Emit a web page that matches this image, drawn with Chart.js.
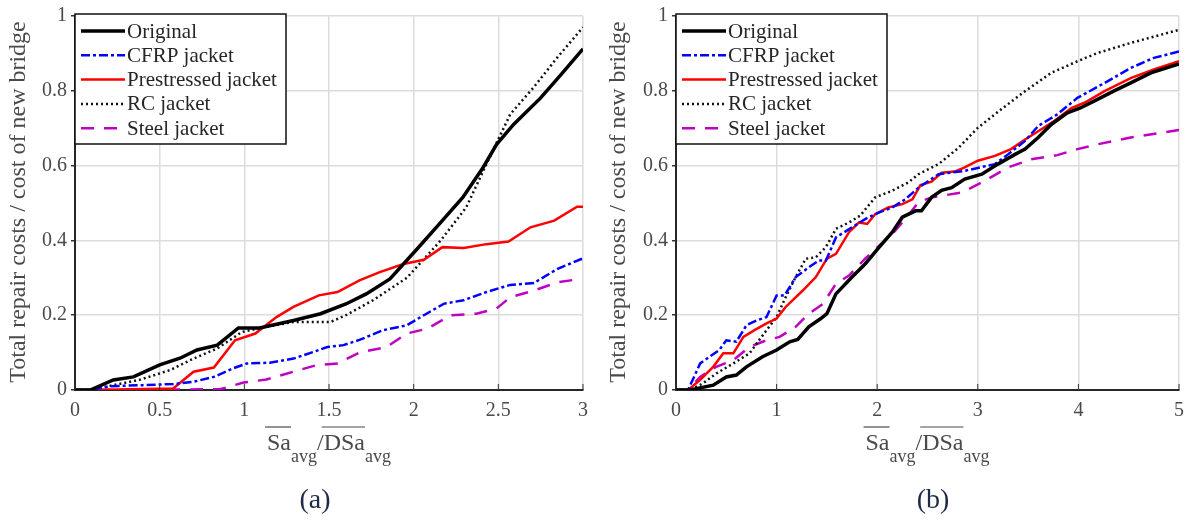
<!DOCTYPE html>
<html>
<head>
<meta charset="utf-8">
<script src="https://cdn.jsdelivr.net/npm/chart.js@4/dist/chart.umd.min.js"></script>
<style>
  body { margin: 0; background: #fff; }
  #wrapA { position: absolute; left: 0; top: 0; width: 600px; height: 524px; }
  #wrapB { position: absolute; left: 600px; top: 0; width: 593px; height: 524px; }
</style>
</head>
<body>
<div id="wrapA"><canvas id="chartA" width="600" height="524"></canvas></div>
<div id="wrapB"><canvas id="chartB" width="593" height="524"></canvas></div>
<script>
const seriesNames = ['Original', 'CFRP jacket', 'Prestressed jacket', 'RC jacket', 'Steel jacket'];
const yTicks = [0, 0.2, 0.4, 0.6, 0.8, 1];

// (a) values
const aOrigX = [0, 0.09, 0.226, 0.345, 0.50, 0.62, 0.72, 0.84, 0.965, 1.09, 1.29, 1.45, 1.6, 1.72, 1.86, 2.02, 2.16, 2.29, 2.41, 2.49, 2.59, 2.75, 2.87, 3.0];
const aOrigY = [0, 0, 0.027, 0.035, 0.067, 0.085, 0.107, 0.12, 0.166, 0.166, 0.186, 0.204, 0.23, 0.257, 0.297, 0.377, 0.448, 0.515, 0.595, 0.657, 0.71, 0.781, 0.843, 0.912];
const aCfrpX = [0, 0.09, 0.207, 0.40, 0.58, 0.70, 0.82, 0.935, 1.015, 1.15, 1.29, 1.41, 1.49, 1.585, 1.68, 1.82, 1.96, 2.06, 2.18, 2.295, 2.43, 2.57, 2.71, 2.85, 3.0];
const aCfrpY = [0, 0, 0.01, 0.013, 0.016, 0.022, 0.035, 0.058, 0.071, 0.073, 0.084, 0.102, 0.115, 0.12, 0.134, 0.16, 0.173, 0.2, 0.231, 0.24, 0.262, 0.281, 0.286, 0.324, 0.352];
const aPresX = [0, 0.09, 0.58, 0.70, 0.82, 0.945, 1.065, 1.19, 1.29, 1.44, 1.55, 1.68, 1.80, 1.94, 2.06, 2.17, 2.295, 2.43, 2.56, 2.69, 2.83, 2.965, 3.0];
const aPresY = [0, 0, 0.004, 0.049, 0.06, 0.133, 0.151, 0.195, 0.222, 0.253, 0.262, 0.293, 0.315, 0.337, 0.348, 0.382, 0.38, 0.39, 0.397, 0.435, 0.453, 0.49, 0.49];
const aRcX = [0, 0.09, 0.226, 0.38, 0.56, 0.70, 0.84, 0.985, 1.13, 1.29, 1.51, 1.6, 1.76, 1.96, 2.16, 2.31, 2.43, 2.57, 2.71, 2.85, 3.0];
const aRcY = [0, 0, 0.013, 0.027, 0.053, 0.084, 0.111, 0.155, 0.169, 0.182, 0.182, 0.2, 0.24, 0.30, 0.40, 0.488, 0.604, 0.737, 0.81, 0.89, 0.97];
const aSteelX = [0, 0.857, 0.995, 1.13, 1.29, 1.43, 1.55, 1.68, 1.84, 1.96, 2.08, 2.22, 2.37, 2.49, 2.57, 2.71, 2.85, 2.985];
const aSteelY = [0, 0.002, 0.02, 0.028, 0.049, 0.067, 0.071, 0.1, 0.115, 0.151, 0.164, 0.2, 0.204, 0.218, 0.248, 0.266, 0.288, 0.297];

// (b)
const bOrigX = [0, 0.14, 0.37, 0.5, 0.6, 0.7, 0.86, 1.0, 1.13, 1.21, 1.32, 1.44, 1.5, 1.59, 1.75, 1.88, 2.02, 2.15, 2.25, 2.38, 2.44, 2.54, 2.64, 2.74, 2.87, 3.04, 3.2, 3.37, 3.47, 3.6, 3.73, 3.89, 4.02, 4.19, 4.35, 4.52, 4.72, 5.0];
const bOrigY = [0, 0, 0.013, 0.035, 0.04, 0.062, 0.089, 0.107, 0.129, 0.135, 0.169, 0.191, 0.204, 0.257, 0.302, 0.337, 0.382, 0.422, 0.462, 0.479, 0.479, 0.515, 0.534, 0.541, 0.564, 0.577, 0.604, 0.63, 0.644, 0.675, 0.71, 0.741, 0.754, 0.777, 0.799, 0.821, 0.848, 0.872];
const bCfrpX = [0, 0.12, 0.24, 0.43, 0.5, 0.6, 0.7, 0.8, 0.9, 1.0, 1.08, 1.19, 1.32, 1.42, 1.49, 1.59, 1.75, 1.88, 2.02, 2.15, 2.28, 2.41, 2.61, 2.87, 3.17, 3.3, 3.47, 3.6, 3.79, 3.99, 4.26, 4.52, 4.75, 5.0];
const bCfrpY = [0, 0, 0.071, 0.107, 0.133, 0.129, 0.173, 0.186, 0.195, 0.253, 0.253, 0.302, 0.328, 0.346, 0.346, 0.408, 0.435, 0.457, 0.475, 0.488, 0.51, 0.541, 0.577, 0.586, 0.604, 0.63, 0.666, 0.706, 0.737, 0.781, 0.821, 0.861, 0.888, 0.905];
const bPresX = [0, 0.12, 0.24, 0.37, 0.47, 0.57, 0.67, 0.78, 0.9, 1.0, 1.09, 1.26, 1.39, 1.5, 1.59, 1.72, 1.82, 1.9, 1.98, 2.11, 2.25, 2.35, 2.43, 2.54, 2.64, 2.77, 2.87, 3.0, 3.17, 3.33, 3.47, 3.6, 3.76, 3.93, 4.06, 4.26, 4.52, 4.75, 5.0];
const bPresY = [0, 0, 0.027, 0.062, 0.098, 0.098, 0.142, 0.16, 0.178, 0.191, 0.222, 0.266, 0.302, 0.351, 0.364, 0.422, 0.448, 0.444, 0.47, 0.488, 0.497, 0.51, 0.548, 0.557, 0.581, 0.584, 0.595, 0.613, 0.626, 0.644, 0.67, 0.692, 0.719, 0.754, 0.768, 0.799, 0.834, 0.857, 0.879];
const bRcX = [0, 0.14, 0.27, 0.40, 0.57, 0.73, 0.9, 1.0, 1.09, 1.19, 1.29, 1.39, 1.49, 1.59, 1.72, 1.83, 1.98, 2.15, 2.31, 2.41, 2.61, 2.81, 3.0, 3.23, 3.47, 3.73, 3.99, 4.19, 4.52, 5.0];
const bRcY = [0, 0, 0.018, 0.044, 0.071, 0.098, 0.16, 0.195, 0.248, 0.302, 0.351, 0.355, 0.382, 0.431, 0.448, 0.466, 0.515, 0.533, 0.555, 0.577, 0.604, 0.648, 0.701, 0.75, 0.799, 0.848, 0.879, 0.901, 0.928, 0.963];
const bSteelX = [0, 0.12, 0.24, 0.4, 0.57, 0.73, 0.9, 1.03, 1.19, 1.32, 1.46, 1.59, 1.72, 1.88, 2.02, 2.15, 2.28, 2.41, 2.54, 2.84, 3.04, 3.3, 3.53, 3.79, 3.99, 4.19, 4.52, 5.0];
const bSteelY = [0, 0, 0.035, 0.062, 0.08, 0.115, 0.133, 0.142, 0.169, 0.204, 0.23, 0.284, 0.306, 0.351, 0.386, 0.417, 0.457, 0.502, 0.515, 0.528, 0.555, 0.595, 0.617, 0.628, 0.644, 0.657, 0.675, 0.695];

const FONT = '"Liberation Serif", "Times New Roman", serif';
const styles = [
    { color: '#000000', width: 3.5, dash: [] },
    { color: '#0000ff', width: 2.5, dash: [9, 3, 3, 3] },
    { color: '#ff0000', width: 2.5, dash: [] },
    { color: '#111111', width: 2.5, dash: [2, 3] },
    { color: '#c000c0', width: 2.5, dash: [13, 10] }
];

function pts(xs, ys) {
    return xs.map((x, i) => ({ x: x, y: ys[i] }));
}

function makeSets(list) {
    return list.map((d, i) => ({
        label: seriesNames[i],
        data: pts(d[0], d[1]),
        borderColor: styles[i].color,
        borderWidth: styles[i].width,
        borderDash: styles[i].dash,
        pointRadius: 0,
        tension: 0,
        fill: false
    }));
}

function drawXTitle(ctx, cx, baseY) {
    const big = '24px ' + FONT, small = '18px ' + FONT;
    const parts = [
        { t: 'Sa', f: big, dy: 0, bar: true },
        { t: 'avg', f: small, dy: 12 },
        { t: '/', f: big, dy: 0 },
        { t: 'DSa', f: big, dy: 0, bar: true },
        { t: 'avg', f: small, dy: 12 }
    ];
    let total = 0;
    parts.forEach(p => { ctx.font = p.f; p.w = ctx.measureText(p.t).width; total += p.w; });
    let x = cx - total / 2;
    ctx.fillStyle = '#4a4a4a';
    ctx.strokeStyle = '#4a4a4a';
    ctx.lineWidth = 1.2;
    ctx.textAlign = 'left';
    ctx.textBaseline = 'alphabetic';
    parts.forEach(p => {
        ctx.font = p.f;
        ctx.fillText(p.t, x, baseY + p.dy);
        if (p.bar) {
            ctx.beginPath();
            ctx.moveTo(x - 2, baseY - 23);
            ctx.lineTo(x + p.w, baseY - 23);
            ctx.stroke();
        }
        x += p.w;
    });
}

const overlay = {
    id: 'overlay',
    afterDatasetsDraw(chart, args, opts) {
        const ctx = chart.ctx;
        const area = chart.chartArea;
        // legend box
        const bx = area.left, by = 14, bw = 211, bh = 130;
        ctx.save();
        ctx.fillStyle = '#fff';
        ctx.fillRect(bx, by, bw, bh);
        ctx.strokeStyle = '#111';
        ctx.lineWidth = 1.5;
        ctx.strokeRect(bx, by, bw, bh);
        chart.data.datasets.forEach((ds, i) => {
            const y = by + 17 + i * 24.3;
            ctx.strokeStyle = ds.borderColor;
            ctx.lineWidth = ds.borderWidth;
            ctx.setLineDash(ds.borderDash);
            ctx.beginPath();
            ctx.moveTo(bx + 6, y);
            ctx.lineTo(bx + 50, y);
            ctx.stroke();
            ctx.setLineDash([]);
            ctx.fillStyle = '#262626';
            ctx.font = '21px ' + FONT;
            ctx.textAlign = 'left';
            ctx.textBaseline = 'middle';
            ctx.fillText(ds.label, bx + 52, y + 1);
        });
        ctx.restore();
    },
    afterDraw(chart, args, opts) {
        const ctx = chart.ctx;
        const area = chart.chartArea;
        const xs = chart.scales.x;
        ctx.save();
        // inward tick marks on the x axis
        ctx.strokeStyle = '#333';
        ctx.lineWidth = 1;
        xs.ticks.forEach(t => {
            const px = xs.getPixelForValue(t.value);
            ctx.beginPath();
            ctx.moveTo(px, area.bottom);
            ctx.lineTo(px, area.bottom - 6);
            ctx.stroke();
        });
        // y axis title
        ctx.translate(19, 202);
        ctx.rotate(-Math.PI / 2);
        ctx.fillStyle = '#4a4a4a';
        ctx.font = '24px ' + FONT;
        ctx.textAlign = 'center';
        ctx.textBaseline = 'middle';
        ctx.fillText('Total repair costs / cost of new bridge', 0, 0);
        ctx.restore();

        ctx.save();
        drawXTitle(ctx, (area.left + area.right) / 2, 450);
        ctx.fillStyle = '#1e2b48';
        ctx.font = '28px ' + FONT;
        ctx.textAlign = 'center';
        ctx.textBaseline = 'middle';
        ctx.fillText(opts.caption, opts.captionX, 501);
        ctx.restore();
    }
};

const plainNum = v => String(+Number(v).toFixed(2));

function makeChart(id, sets, xMax, xStep, yWidth, padRight, caption, captionX) {
    return new Chart(document.getElementById(id), {
        type: 'line',
        data: { datasets: makeSets(sets) },
        plugins: [overlay],
        options: {
            responsive: false,
            animation: false,
            layout: { padding: { left: 0, right: padRight, top: 14, bottom: 0 } },
            plugins: {
                legend: { display: false },
                tooltip: { enabled: false },
                overlay: { caption: caption, captionX: captionX }
            },
            scales: {
                x: {
                    type: 'linear',
                    min: 0,
                    max: xMax,
                    ticks: {
                        stepSize: xStep,
                        padding: 9,
                        color: '#4a4a4a',
                        font: { family: FONT, size: 20 },
                        callback: plainNum
                    },
                    grid: { color: '#dcdcdc', lineWidth: 1.5, drawTicks: false },
                    border: { color: '#262626', width: 2 },
                    afterFit: s => { s.height = 134; }
                },
                y: {
                    min: 0,
                    max: 1,
                    afterBuildTicks: s => { s.ticks = yTicks.map(v => ({ value: v })); },
                    ticks: {
                        padding: 4,
                        color: '#4a4a4a',
                        font: { family: FONT, size: 20 },
                        callback: plainNum
                    },
                    grid: { color: '#dcdcdc', lineWidth: 1.5, tickLength: 4, tickColor: '#333' },
                    border: { color: '#262626', width: 2 },
                    afterFit: s => { s.width = yWidth; }
                }
            }
        }
    });
}

makeChart('chartA', [[aOrigX, aOrigY], [aCfrpX, aCfrpY], [aPresX, aPresY], [aRcX, aRcY], [aSteelX, aSteelY]],
    3, 0.5, 75, 17, '(a)', 315);
makeChart('chartB', [[bOrigX, bOrigY], [bCfrpX, bCfrpY], [bPresX, bPresY], [bRcX, bRcY], [bSteelX, bSteelY]],
    5, 1, 76, 11, '(b)', 333);
</script>
</body>
</html>
